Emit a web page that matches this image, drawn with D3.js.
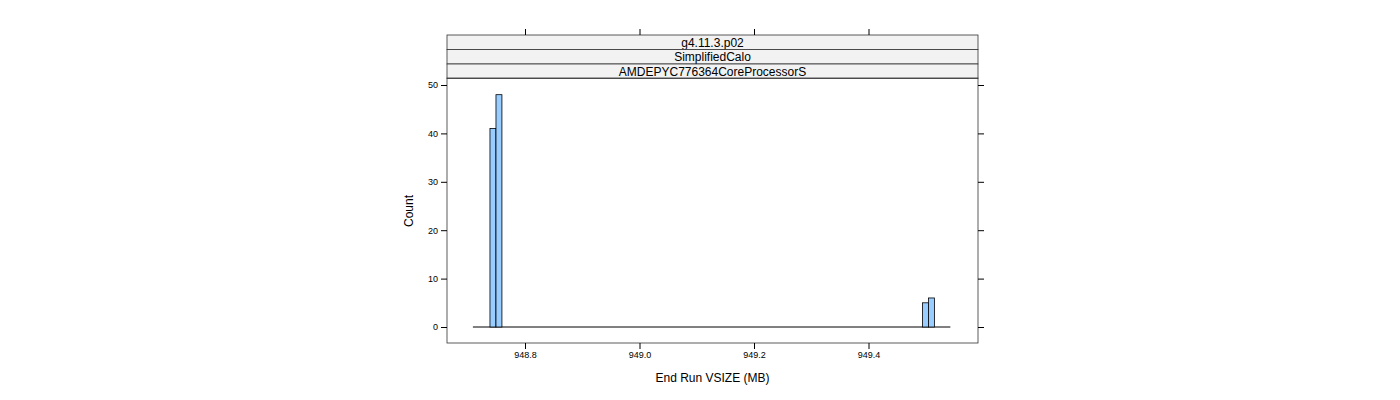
<!DOCTYPE html>
<html><head><meta charset="utf-8">
<script src="https://cdn.jsdelivr.net/npm/d3@7"></script>
<style>body{margin:0;background:#fff}text{font-family:"Liberation Sans",Arial,sans-serif}</style>
</head><body>
<script>
(function(){
    //data
    var binStarts = [948.7388, 948.7493, 949.4943, 949.5047];
    var binCounts = [41, 48, 5, 6];
    var binWidth = 0.0104;
    var breaksRange = [948.709, 949.543];
    var xTicks = [948.8, 949.0, 949.2, 949.4];
    var yTicks = [0, 10, 20, 30, 40, 50];
    var strips = ["g4.11.3.p02", "SimplifiedCalo", "AMDEPYC776364CoreProcessorS"];

    var svg = d3.select("body").append("svg").attr("width", 1400).attr("height", 400);
    var left = 447, right = 978, top = 78, bottom = 343;

    var x = d3.scaleLinear().domain([948.8, 949.4]).range([525, 868.5]);
    var y = d3.scaleLinear().domain([0, 50]).range([327, 85]);

    //strips
    strips.forEach(function(s, i){
        var sy = 35 + i * 14.5;
        svg.append("rect").attr("x", left).attr("y", sy).attr("width", right - left).attr("height", 14.5)
            .attr("fill", "#f2f2f2").attr("stroke", "#333").attr("stroke-width", 0.8);
        svg.append("text").attr("x", (left + right) / 2).attr("y", sy + 11.5).attr("text-anchor", "middle")
            .attr("font-size", 12).text(s);
    });

    svg.append("rect").attr("x", left).attr("y", top).attr("width", right - left).attr("height", bottom - top)
        .attr("fill", "none").attr("stroke", "#333").attr("stroke-width", 0.8);

    //baseline of zero bins
    svg.append("line").attr("x1", x(breaksRange[0])).attr("x2", x(breaksRange[1]))
        .attr("y1", y(0)).attr("y2", y(0)).attr("stroke", "#000");

    svg.selectAll(".bar").data(binStarts).enter().append("rect")
        .attr("x", function(d){ return x(d); })
        .attr("width", function(d){ return x(d + binWidth) - x(d); })
        .attr("y", function(d, i){ return y(binCounts[i]); })
        .attr("height", function(d, i){ return y(0) - y(binCounts[i]); })
        .attr("fill", "#99ccff").attr("stroke", "#000").attr("stroke-width", 0.8);

    //axes
    svg.append("g").attr("transform", "translate(0," + bottom + ")")
        .call(d3.axisBottom(x).tickValues(xTicks).tickFormat(d3.format(".1f")).tickSize(6).tickSizeOuter(0))
        .call(function(g){ g.select(".domain").remove(); g.selectAll("text").attr("font-size", 9).attr("font-family", "Liberation Sans"); });
    svg.append("g").attr("transform", "translate(0,35)")
        .call(d3.axisTop(x).tickValues(xTicks).tickFormat("").tickSize(6).tickSizeOuter(0))
        .call(function(g){ g.select(".domain").remove(); });
    svg.append("g").attr("transform", "translate(" + left + ",0)")
        .call(d3.axisLeft(y).tickValues(yTicks).tickSize(6).tickSizeOuter(0))
        .call(function(g){ g.select(".domain").remove(); g.selectAll("text").attr("font-size", 9).attr("font-family", "Liberation Sans"); });
    svg.append("g").attr("transform", "translate(" + right + ",0)")
        .call(d3.axisRight(y).tickValues(yTicks).tickFormat("").tickSize(6).tickSizeOuter(0))
        .call(function(g){ g.select(".domain").remove(); });

    svg.append("text").attr("x", (left + right) / 2).attr("y", 382).attr("text-anchor", "middle")
        .attr("font-size", 12).text("End Run VSIZE (MB)");
    svg.append("text").attr("transform", "translate(413,211) rotate(-90)").attr("text-anchor", "middle")
        .attr("font-size", 12).text("Count");
})();
</script>
</body></html>
